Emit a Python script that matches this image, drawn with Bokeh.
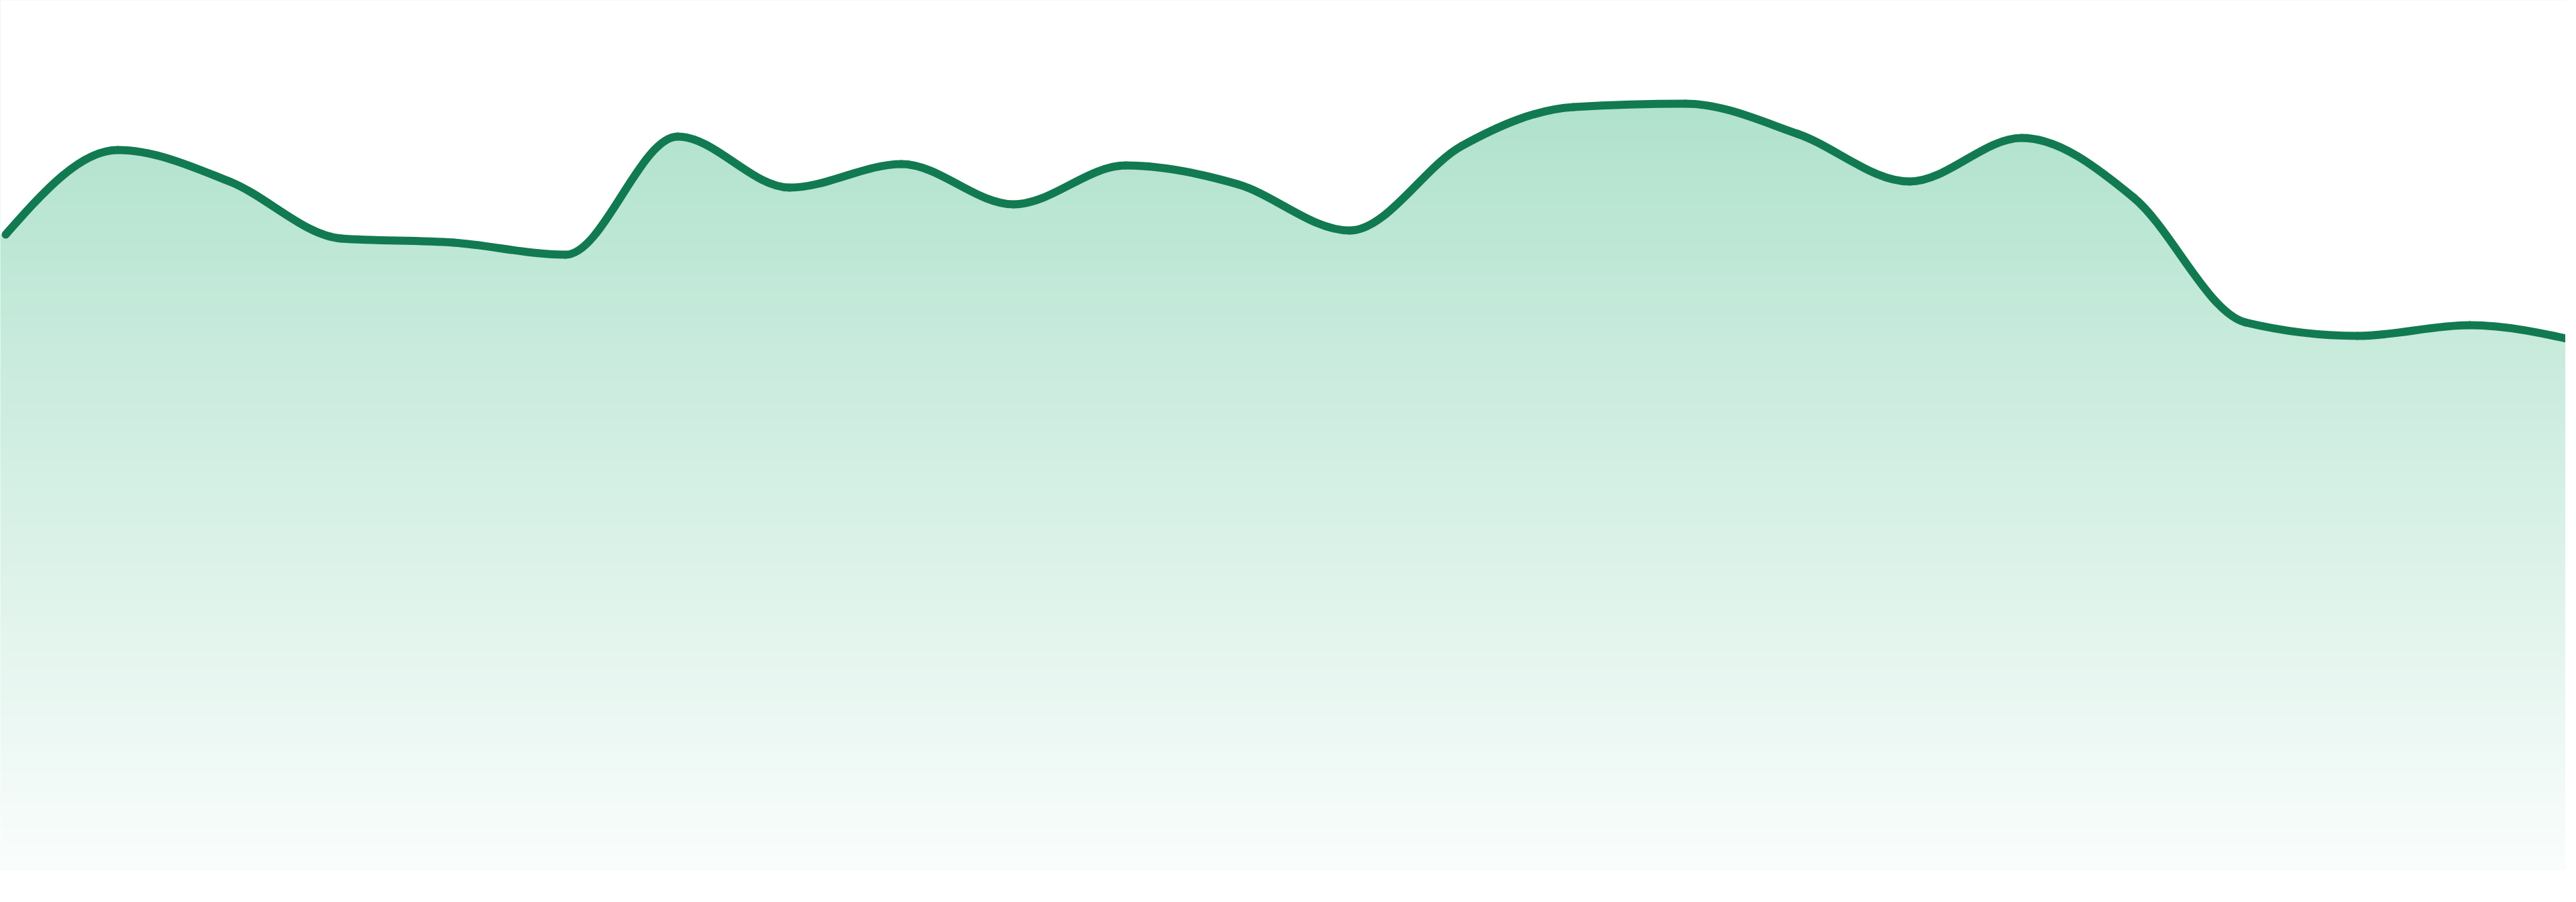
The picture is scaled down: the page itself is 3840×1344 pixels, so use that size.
import numpy as np
from bokeh.plotting import figure
from bokeh.models import Range1d, ColumnDataSource
from bokeh.embed import file_html
from bokeh.resources import INLINE

# ---- data ----
points = list(range(24))
values = [948, 1074, 1027, 942, 936, 918, 1094, 1018, 1053, 993, 1051, 1023,
          954, 1080, 1138, 1143, 1098, 1027, 1092, 1003, 817, 797, 813, 788]

# ---- styling ----
LINE_COLOR = "#127a50"
TOP_RGB = (176, 226, 205)
BOT_RGB = (250, 253, 252)
W, H = 3824, 1297
STEP = 3840 / 23.0

x = np.asarray(points, dtype=float)
y = np.asarray(values, dtype=float)
n = len(x)

# monotone-x tangents (same rule as d3.curveMonotoneX)
m = np.zeros(n)
for i in range(1, n - 1):
    h0 = x[i] - x[i - 1]
    h1 = x[i + 1] - x[i]
    s0 = (y[i] - y[i - 1]) / h0
    s1 = (y[i + 1] - y[i]) / h1
    pp = (s0 * h1 + s1 * h0) / (h0 + h1)
    m[i] = (np.sign(s0) + np.sign(s1)) * min(abs(s0), abs(s1), 0.5 * abs(pp))
m[0] = (3 * (y[1] - y[0]) / (x[1] - x[0]) - m[1]) / 2
m[-1] = (3 * (y[-1] - y[-2]) / (x[-1] - x[-2]) - m[-2]) / 2

dx = (x[1:] - x[:-1]) / 3.0
seg = dict(
    x0=x[:-1], y0=y[:-1], x1=x[1:], y1=y[1:],
    cx0=x[:-1] + dx, cy0=y[:-1] + dx * m[:-1],
    cx1=x[1:] - dx, cy1=y[1:] - dx * m[1:],
)

# outline of the area's top edge, following the same bezier segments (for the mask)
tt = np.linspace(0, 1, 40)[:, None]
def bez(p0, c0, c1, p1):
    return ((1 - tt) ** 3) * p0 + 3 * ((1 - tt) ** 2) * tt * c0 + 3 * (1 - tt) * tt ** 2 * c1 + tt ** 3 * p1
bx = bez(seg["x0"], seg["cx0"], seg["cx1"], seg["x1"]).T.ravel()
by = bez(seg["y0"], seg["cy0"], seg["cy1"], seg["y1"]).T.ravel()
TOP = 5000.0
mask_x = np.concatenate([bx, [x[-1] + 1, x[-1] + 1, x[0] - 1, x[0] - 1]])
mask_y = np.concatenate([by, [by[-1], TOP, TOP, by[0]]])

x_lo = -8.0 / STEP
x_hi = x_lo + W / STEP

p = figure(width=W, height=H, output_backend="svg", toolbar_location=None,
           x_range=Range1d(x_lo, x_hi), y_range=Range1d(0, H),
           x_axis_location=None, y_axis_location=None, min_border=0)
p.grid.visible = False
p.outline_line_color = None
p.background_fill_color = "white"
p.border_fill_color = "white"

# vertical gradient for the area fill
ymax = float(y.max())
rows = np.arange(H) + 0.5
t = np.clip((ymax - rows) / ymax, 0, 1)
img = np.empty((H, 1), dtype=np.uint32)
view = img.view(dtype=np.uint8).reshape((H, 1, 4))
for k in range(3):
    view[:, 0, k] = np.round(TOP_RGB[k] + (BOT_RGB[k] - TOP_RGB[k]) * t).astype(np.uint8)
view[:, 0, 3] = 255
p.image_rgba(image=[img], x=x_lo - 1, y=0, dw=(x_hi - x_lo) + 2, dh=H)

# white mask above the curve
p.patch(mask_x, mask_y, fill_color="white", line_color=None)

# the line itself
p.bezier(x0="x0", y0="y0", x1="x1", y1="y1", cx0="cx0", cy0="cy0", cx1="cx1", cy1="cy1",
         source=ColumnDataSource(seg), line_color=LINE_COLOR, line_width=12, line_cap="round")

open("out.html", "w").write(file_html(p, INLINE))
